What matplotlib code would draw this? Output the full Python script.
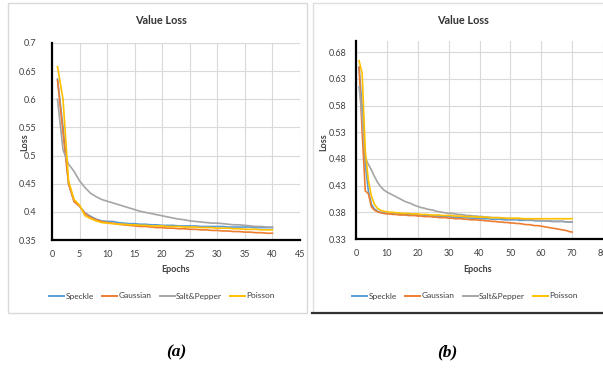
import matplotlib
matplotlib.use("Agg")
import matplotlib.pyplot as plt
from matplotlib.patches import Rectangle
from matplotlib.lines import Line2D

plt.rcParams['font.family'] = ['Lato', 'DejaVu Sans']

series_names = ["Speckle", "Gaussian", "Salt&Pepper", "Poisson"]
colors = ["#5B9BD5", "#ED7D31", "#A5A5A5", "#FFC000"]

# ---- Panel (a): 40 epochs ----
epochs_a = list(range(1, 41))
speckle_a = [0.636, 0.550, 0.450, 0.420, 0.410, 0.398, 0.392, 0.387, 0.384, 0.383,
             0.383, 0.381, 0.380, 0.379, 0.379, 0.378, 0.378, 0.377, 0.377, 0.376,
             0.376, 0.376, 0.375, 0.375, 0.375, 0.375, 0.374, 0.374, 0.374, 0.374,
             0.374, 0.373, 0.373, 0.373, 0.373, 0.373, 0.372, 0.372, 0.372, 0.372]
gaussian_a = [0.634, 0.540, 0.450, 0.418, 0.410, 0.397, 0.390, 0.386, 0.383, 0.381,
              0.380, 0.378, 0.377, 0.376, 0.375, 0.374, 0.374, 0.373, 0.372, 0.372,
              0.371, 0.371, 0.370, 0.370, 0.369, 0.369, 0.368, 0.368, 0.367, 0.367,
              0.366, 0.366, 0.365, 0.365, 0.364, 0.364, 0.363, 0.363, 0.362, 0.362]
salt_a = [0.600, 0.510, 0.485, 0.472, 0.455, 0.443, 0.433, 0.427, 0.422, 0.419,
          0.416, 0.413, 0.410, 0.407, 0.404, 0.401, 0.399, 0.397, 0.395, 0.393,
          0.391, 0.389, 0.387, 0.386, 0.384, 0.383, 0.382, 0.381, 0.380, 0.380,
          0.379, 0.378, 0.377, 0.377, 0.376, 0.375, 0.374, 0.374, 0.373, 0.373]
poisson_a = [0.658, 0.600, 0.455, 0.422, 0.412, 0.393, 0.388, 0.384, 0.381, 0.380,
             0.379, 0.378, 0.378, 0.377, 0.377, 0.376, 0.376, 0.375, 0.375, 0.375,
             0.374, 0.374, 0.374, 0.373, 0.373, 0.373, 0.372, 0.372, 0.372, 0.371,
             0.371, 0.371, 0.370, 0.370, 0.369, 0.369, 0.369, 0.368, 0.368, 0.368]
xticks_a = [0, 5, 10, 15, 20, 25, 30, 35, 40, 45]
yticks_a = [0.35, 0.40, 0.45, 0.50, 0.55, 0.60, 0.65, 0.70]
ylabels_a = ["0.35", "0.4", "0.45", "0.5", "0.55", "0.6", "0.65", "0.7"]

# ---- Panel (b): 70 epochs ----
epochs_b = list(range(1, 71))
speckle_b = [0.652, 0.575, 0.470, 0.420, 0.395, 0.386, 0.382, 0.380, 0.379, 0.378,
             0.378, 0.377, 0.377, 0.377, 0.376, 0.376, 0.376, 0.375, 0.375, 0.375,
             0.375, 0.374, 0.374, 0.374, 0.373, 0.373, 0.373, 0.372, 0.372, 0.372,
             0.371, 0.371, 0.371, 0.370, 0.370, 0.370, 0.369, 0.369, 0.369, 0.368,
             0.368, 0.368, 0.368, 0.367, 0.367, 0.367, 0.367, 0.366, 0.366, 0.366,
             0.366, 0.366, 0.365, 0.365, 0.365, 0.365, 0.365, 0.364, 0.364, 0.364,
             0.364, 0.364, 0.363, 0.363, 0.363, 0.363, 0.363, 0.362, 0.362, 0.362]
gaussian_b = [0.652, 0.530, 0.420, 0.415, 0.390, 0.384, 0.381, 0.379, 0.378, 0.377,
              0.377, 0.376, 0.376, 0.375, 0.375, 0.375, 0.374, 0.374, 0.374, 0.373,
              0.373, 0.372, 0.372, 0.372, 0.371, 0.371, 0.370, 0.370, 0.370, 0.369,
              0.369, 0.368, 0.368, 0.368, 0.367, 0.367, 0.366, 0.366, 0.366, 0.365,
              0.365, 0.364, 0.364, 0.363, 0.363, 0.362, 0.362, 0.361, 0.361, 0.360,
              0.360, 0.359, 0.359, 0.358, 0.357, 0.357, 0.356, 0.355, 0.355, 0.354,
              0.353, 0.352, 0.351, 0.350, 0.349, 0.348, 0.347, 0.346, 0.344, 0.343]
salt_b = [0.615, 0.560, 0.482, 0.470, 0.459, 0.447, 0.436, 0.428, 0.422, 0.418,
          0.415, 0.412, 0.409, 0.406, 0.403, 0.400, 0.398, 0.396, 0.393, 0.391,
          0.389, 0.388, 0.386, 0.385, 0.384, 0.382, 0.381, 0.380, 0.379, 0.378,
          0.378, 0.377, 0.376, 0.376, 0.375, 0.374, 0.374, 0.373, 0.373, 0.372,
          0.372, 0.371, 0.371, 0.370, 0.370, 0.370, 0.369, 0.369, 0.368, 0.368,
          0.368, 0.367, 0.367, 0.367, 0.366, 0.366, 0.366, 0.365, 0.365, 0.365,
          0.364, 0.364, 0.364, 0.363, 0.363, 0.363, 0.363, 0.362, 0.362, 0.362]
poisson_b = [0.664, 0.640, 0.495, 0.440, 0.410, 0.395, 0.387, 0.384, 0.382, 0.381,
             0.380, 0.380, 0.379, 0.379, 0.378, 0.378, 0.378, 0.377, 0.377, 0.377,
             0.376, 0.376, 0.376, 0.375, 0.375, 0.375, 0.375, 0.374, 0.374, 0.374,
             0.374, 0.373, 0.373, 0.373, 0.372, 0.372, 0.372, 0.372, 0.371, 0.371,
             0.371, 0.371, 0.370, 0.370, 0.370, 0.370, 0.370, 0.369, 0.369, 0.369,
             0.369, 0.369, 0.369, 0.368, 0.368, 0.368, 0.368, 0.368, 0.368, 0.368,
             0.368, 0.368, 0.368, 0.368, 0.368, 0.368, 0.368, 0.368, 0.368, 0.368]
xticks_b = [0, 10, 20, 30, 40, 50, 60, 70, 80]
yticks_b = [0.33, 0.38, 0.43, 0.48, 0.53, 0.58, 0.63, 0.68]
ylabels_b = ["0.33", "0.38", "0.43", "0.48", "0.53", "0.58", "0.63", "0.68"]

W, H = 603, 368
fig = plt.figure(figsize=(W / 100, H / 100), dpi=100)
fig.patch.set_facecolor("white")

def fx(px):
    return px / W

def fy(py):
    return 1 - py / H

# panel frames
fig.add_artist(Rectangle((fx(8), fy(313)), fx(299), 310 / H, transform=fig.transFigure,
                         fill=False, edgecolor="#d9d9d9", linewidth=1.0))
fig.add_artist(Rectangle((fx(313), fy(313)), fx(295), 310 / H, transform=fig.transFigure,
                         fill=False, edgecolor="#e0e0e0", linewidth=1.0))
fig.add_artist(Line2D([fx(312), 1.0], [fy(313), fy(313)], transform=fig.transFigure,
                      color="#333333", linewidth=1.6))

def style_axes(ax, xticks, yticks, ylabels, xlim, ylim, ypad):
    ax.set_xlim(*xlim)
    ax.set_ylim(*ylim)
    ax.set_xticks(xticks)
    ax.set_yticks(yticks)
    ax.set_yticklabels(ylabels)
    ax.grid(True, color="#d9d9d9", linewidth=0.8)
    ax.set_axisbelow(True)
    for s in ["top", "right"]:
        ax.spines[s].set_visible(False)
    for s in ["left", "bottom"]:
        ax.spines[s].set_color("black")
        ax.spines[s].set_linewidth(1.6)
    ax.tick_params(length=0, labelsize=6.5, colors="#404040")
    ax.tick_params(axis="x", pad=7)
    ax.tick_params(axis="y", pad=ypad)

axA = fig.add_axes([fx(52), fy(240), fx(300 - 52), (240 - 43) / H])
for vals, c in zip([speckle_a, gaussian_a, salt_a, poisson_a], colors):
    axA.plot(epochs_a, vals, color=c, linewidth=1.2)
style_axes(axA, xticks_a, yticks_a, ylabels_a, (0, 45), (0.35, 0.70), 11)

axB = fig.add_axes([fx(356), fy(239), 1.0 - fx(356), (239 - 41) / H])
for vals, c in zip([speckle_b, gaussian_b, salt_b, poisson_b], colors):
    axB.plot(epochs_b, vals, color=c, linewidth=1.2)
style_axes(axB, xticks_b, yticks_b, ylabels_b, (0, 80), (0.33, 0.701), 7)

# titles and labels
for tx, ex, ly in [(161, 176, 25), (463, 478, 324)]:
    fig.text(fx(tx), fy(20), "Value Loss", ha="center", va="center", fontsize=7.8,
             fontweight="bold", color="#333333")
    fig.text(fx(ex), fy(270), "Epochs", ha="center", va="center", fontsize=6.5,
             fontweight="bold", color="#404040")
    fig.text(fx(ly), fy(142), "Loss", ha="center", va="center", fontsize=6.5,
             fontweight="bold", color="#404040", rotation=90)

handles = [Line2D([], [], color=c, linewidth=1.4) for c in colors]
for cx in [162, 465]:
    fig.legend(handles, series_names, loc="center", bbox_to_anchor=(fx(cx), fy(296)),
               ncol=4, frameon=False, fontsize=6, handlelength=1.8, handletextpad=0.15,
               columnspacing=1.0, labelcolor="#404040")

fig.text(fx(176), fy(352), "(a)", ha="center", va="center", fontsize=12.5,
         fontstyle="italic", fontweight="bold", family="Liberation Serif")
fig.text(fx(447), fy(352), "(b)", ha="center", va="center", fontsize=12.5,
         fontstyle="italic", fontweight="bold", family="Liberation Serif")

fig.savefig("out.png", dpi=100)
